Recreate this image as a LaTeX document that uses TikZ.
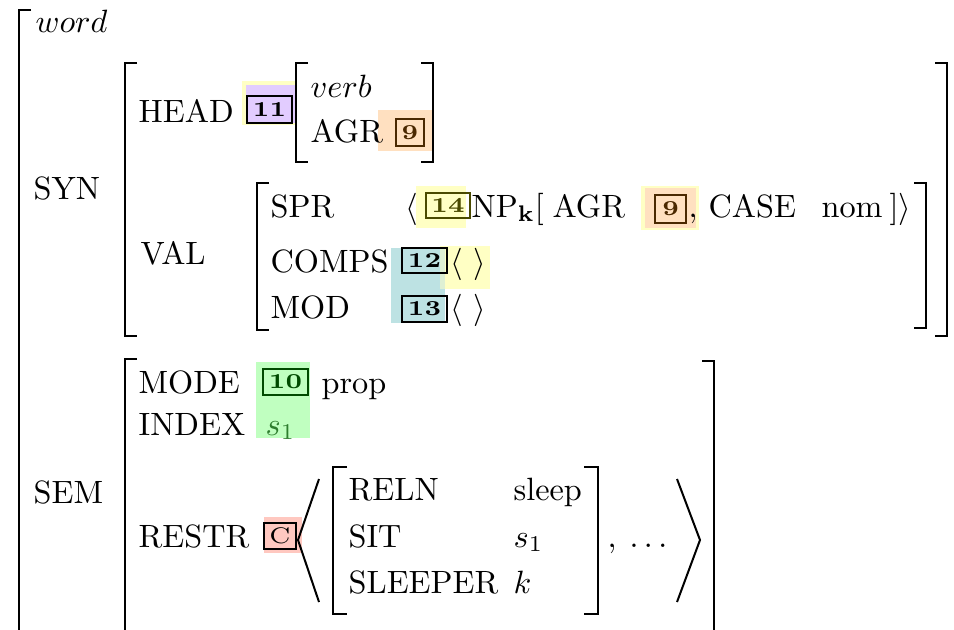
\documentclass[tikz,border=0pt]{standalone}
\usepackage{xcolor}
\usepackage{graphicx}
\definecolor{cpurp}{HTML}{E2CCFF}
\definecolor{cyel}{HTML}{FFFFC4}
\definecolor{cpeach}{HTML}{FFE0C0}
\definecolor{cteal}{HTML}{BDE2E3}
\definecolor{cgreen}{HTML}{C0FFC0}
\definecolor{cpink}{HTML}{FFC8C0}
\definecolor{tbrown}{HTML}{4A2800}
\definecolor{tolive}{HTML}{4A4A00}
\definecolor{tgreen}{HTML}{004A00}
\definecolor{sgreen}{HTML}{2E7D2E}
\tikzset{
  brk/.style={line width=0.72pt},
  ang/.style={line width=0.62pt},
  lab/.style={anchor=base west, inner sep=0pt, font=\fontsize{10}{12}\selectfont},
  tagframe/.style={line width=0.6pt},
  tagtxt/.style={inner sep=0pt, font=\fontsize{6.6}{7}\selectfont\bfseries},
}
\newcommand\mytag[6]{% x1 y1 x2 y2 colour text
  \draw[tagframe, draw=#5] (#1,#2) rectangle (#3,#4);
  \node[tagtxt, text=#5] at ({(#1+#3)/2},{(#2+#4)/2}) {\scalebox{1.2}[1]{#6}};}
\begin{document}
\begin{tikzpicture}[x=0.31pt,y=-0.31pt]
\clip (0,0) rectangle (954,629);
% ---------- background highlights
\fill[cyel] (242,81) rectangle (297,125);
\fill[cpurp] (246,85) rectangle (295,123);
\fill[cpeach] (378,110) rectangle (432,151);
\fill[cyel] (416,186) rectangle (466,228);
\fill[cyel] (641,186) rectangle (699,230);
\fill[cpeach] (645,188) rectangle (696,228);
\fill[cteal] (391,248) rectangle (445,323);
\fill[cyel] (440,246) rectangle (490,289);
\fill[cteal!50!cyel] (440,248) rectangle (445,289);
\fill[cgreen] (256,362) rectangle (310,438);
\fill[cpink] (264,517) rectangle (302,553);
% ---------- brackets
% outer word
\draw[brk] (31,10) -- (19,10) -- (19,640);
% SYN
\draw[brk] (137,63) -- (125,63) -- (125,336) -- (137,336);
\draw[brk] (935,63) -- (947,63) -- (947,336) -- (935,336);
% HEAD value
\draw[brk] (308,63) -- (296,63) -- (296,162) -- (308,162);
\draw[brk] (421,63) -- (433,63) -- (433,162) -- (421,162);
% VAL
\draw[brk] (269,183) -- (257,183) -- (257,330) -- (269,330);
\draw[brk] (914,183) -- (926,183) -- (926,328) -- (914,328);
% SEM
\draw[brk] (137,359) -- (125,359) -- (125,640);
\draw[brk] (702,361) -- (714,361) -- (714,640);
% RESTR inner
\draw[brk] (347,467) -- (333,467) -- (333,614) -- (347,614);
\draw[brk] (584,467) -- (598,467) -- (598,614) -- (584,614);
% big angles
\draw[ang] (319,479) -- (298,540) -- (319,602);
\draw[ang] (677,479) -- (700,540) -- (677,602);
% ---------- labels
\node[lab] (word) at (35,32) {$word$};
\node[lab] (syn) at (33,199) {SYN};
\node[lab] (head) at (138,122) {HEAD};
\mytag{247}{96}{292}{123}{black}{11}
\node[lab] (verb) at (310,97) {$verb$};
\node[lab] (agr) at (310,142) {AGR};
\mytag{396}{119}{424}{146}{tbrown}{9}
\node[lab] (val) at (140,264) {VAL};
\node[lab] (spr) at (270,217) {SPR};
\node[lab] (la) at (405,217) {$\langle$};
\mytag{426}{193}{470}{218}{tolive}{14}
\node[lab] (np) at (471,217) {NP$_{\mathbf{k}}$[};
\node[lab] (agr2) at (552,217) {AGR};
\mytag{655}{195}{686}{223}{tbrown}{9}
\node[lab] (comma) at (688,217) {,};
\node[lab] (case) at (708,217) {CASE};
\node[lab] (nom) at (821,217) {nom};
\node[lab] (ra) at (889,217) {]$\rangle$};
\node[lab] (comps) at (270,272) {COMPS};
\mytag{402}{248}{447}{273}{black}{12}
\node[lab] (cl) at (450,272) {$\langle\ \rangle$};
\node[lab] (mod) at (270,318) {MOD};
\mytag{402}{296}{447}{322}{black}{13}
\node[lab] (ml) at (450,318) {$\langle\ \rangle$};
\node[lab] (sem) at (33,503) {SEM};
\node[lab] (mode) at (138,393) {MODE};
\mytag{263}{369}{308}{395}{tgreen}{10}
\node[lab] (prop) at (321,393) {prop};
\node[lab] (index) at (138,435) {INDEX};
\node[lab, text=sgreen] (s1a) at (265,435) {$s_1$};
\node[lab] (restr) at (138,547) {RESTR};
\draw[tagframe] (264,523) rectangle (296,549);
\node[inner sep=0pt, font=\fontsize{7}{8}\selectfont] (tc) at (280,536) {\scalebox{1.15}[1]{C}};
\node[lab] (reln) at (348,500) {RELN};
\node[lab] (sit) at (348,547) {SIT};
\node[lab] (sleeper) at (348,593) {SLEEPER};
\node[lab] (sleep) at (513,500) {sleep};
\node[lab] (s1b) at (513,547) {$s_1$};
\node[lab] (k) at (513,593) {$k$};
\node[lab] (c2) at (607,547) {,};
\node[lab] (dots) at (629,547) {$\ldots$};
\end{tikzpicture}
\end{document}
